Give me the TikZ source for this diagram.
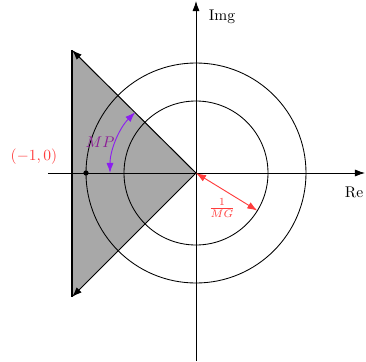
\documentclass[tikz,border=0pt]{standalone}
\usetikzlibrary{arrows.meta}
\definecolor{mpline}{RGB}{140,30,240}
\definecolor{mptext}{RGB}{140,30,150}
\definecolor{lred}{RGB}{255,60,60}
\begin{document}
\begin{tikzpicture}[x=0.645pt,y=0.645pt,
  axis/.style={line width=0.55pt,-{Latex[length=6.5pt,width=4.6pt]}},
  edge/.style={line width=0.65pt},
  tip/.style={-{Latex[length=6.5pt,width=4.6pt]}},
  circ/.style={line width=0.55pt},
  lbl/.style={inner sep=1pt}]
\useasboundingbox (-196,-188) rectangle (170,173);
\coordinate (O) at (0,0);
\coordinate (T) at (-124,123);
\coordinate (B) at (-124,-124);
% shaded region
\fill[black!34] (O) -- (T) -- (B) -- cycle;
% circles
\draw[circ] (O) circle (110);
\draw[circ] (O) circle (72);
% axes
\coordinate (xl) at (-148,0);
\coordinate (xr) at (169,0);
\coordinate (yb) at (0,-188);
\coordinate (yt) at (0,172);
\draw[axis] (xl) -- (xr);
\draw[axis] (yb) -- (yt);
\node[lbl] (re) at (158,-19) {Re};
\node[lbl] (im) at (26,156) {Img};
% triangle edges
\draw[edge] (T) -- (B);
\draw[edge,tip] (O) -- (T);
\draw[edge,tip] (O) -- (B);
% critical point
\node[circle,fill=black,inner sep=0pt,minimum size=3.4pt] (m1) at (-110,0) {};
\node[lbl,text=lred] (m1l) at (-162,16) {$(-1,0)$};
% phase margin
\draw[mpline,line width=0.6pt,{Latex[length=6.5pt,width=4.6pt]}-{Latex[length=6.5pt,width=4.6pt]}]
  (135:86) arc (135:180:86);
\node[lbl,text=mptext] (mp) at (-96,31) {$MP$};
% gain margin
\coordinate (G) at (-31.5:72);
\draw[lred,line width=0.6pt,{Latex[length=6.5pt,width=4.6pt]}-{Latex[length=6.5pt,width=4.6pt]}] (O) -- (G);
\node[lbl,text=lred] (gm) at (26,-35) {$\frac{1}{MG}$};
\end{tikzpicture}
\end{document}
